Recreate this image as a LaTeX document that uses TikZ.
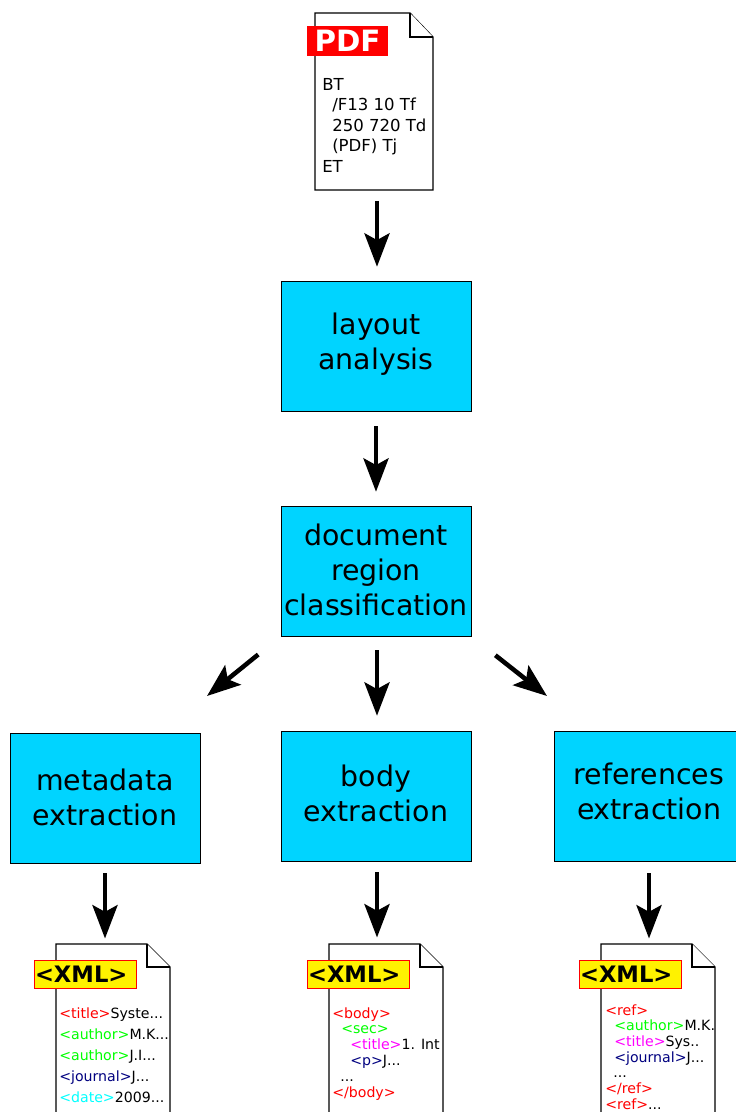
\documentclass[tikz,border=0pt]{standalone}
\usepackage{fontspec}
\setmainfont{DejaVu Sans}
\usetikzlibrary{arrows.meta}
\definecolor{boxblue}{HTML}{00D4FF}
\definecolor{tagred}{HTML}{FF0000}
\definecolor{taggreen}{HTML}{00FF00}
\definecolor{tagpink}{HTML}{FF00FF}
\definecolor{tagnavy}{HTML}{000080}
\definecolor{tagcyan}{HTML}{00FFFF}
\tikzset{
 procbox/.style={draw=black, fill=boxblue, minimum width=142.5pt, minimum height=97.5pt, inner sep=0, align=center, font=\fontsize{21.3}{26.3}\selectfont},
 flow/.style={line width=3.4pt, -{Stealth[length=25pt,width=18.75pt,inset=5pt]}},
 sheet/.style={draw=black, fill=white, line width=.9pt},
 pdftag/.style={fill=red, text=white, minimum width=60.75pt, minimum height=22.5pt, inner sep=0, font=\fontsize{22}{24}\selectfont\bfseries},
 xmltag/.style={draw=red, fill=yellow, line width=.75pt, minimum width=76.5pt, minimum height=21pt, inner sep=0, text width=75pt, align=left, font=\fontsize{17}{20}\selectfont\bfseries},
 listing/.style={anchor=north west, inner sep=0, align=left},
}
\begin{document}
\begin{tikzpicture}[x=.75pt,y=-.75pt]
\useasboundingbox (0,0) rectangle (735,1112);
\draw[sheet] (315,13) -- (410,13) -- (433,37) -- (433,190) -- (315,190) -- cycle;
\draw[sheet] (410,13) -- (410,37) -- (433,37);
\coordinate (pdfsheet) at (377,190);
\node[pdftag] (pdftag) at (347.5,41) {PDF};
\node[listing, font=\fontsize{12.4}{15.4}\selectfont] (pdfcode) at (322,78) {BT\\
\hspace*{7.5pt}/F13 10 Tf\\
\hspace*{7.5pt}250 720 Td\\
\hspace*{7.5pt}(PDF) Tj\\
ET};
\node[procbox, text depth=6.5pt] (layout) at (376,346) {layout\\analysis};
\node[procbox, text depth=1.5pt] (region) at (376,571) {document\\region\\classification};
\node[procbox, text depth=1pt] (meta) at (105,798) {metadata\\extraction};
\node[procbox, text depth=4pt] (body) at (376,796) {body\\extraction};
\node[procbox, text depth=6.5pt] (refs) at (649,796) {references\\extraction};
\foreach \l/\n in {56/xmlmeta,329/xmlbody,601/xmlrefs} {
 \draw[sheet] (\l,1113) -- (\l,944) -- (\l+91,944) -- (\l+114,967) -- (\l+114,1113);
 \draw[sheet] (\l+91,944) -- (\l+91,967) -- (\l+114,967);
 \node[xmltag] (\n) at (\l+29,974) {<XML>};
}
\node[listing, font=\fontsize{10.6}{15.75}\selectfont] (metacode) at (59,1007) {\textcolor{tagred}{<title>}Syste...\\
\textcolor{taggreen}{<author>}M.K...\\
\textcolor{taggreen}{<author>}J.I...\\
\textcolor{tagnavy}{<journal>}J...\\
\textcolor{tagcyan}{<date>}2009...};
\node[listing, font=\fontsize{10.6}{11.9}\selectfont] (bodycode) at (332,1007) {\textcolor{tagred}{<body>}\\
\hspace*{6.75pt}\textcolor{taggreen}{<sec>}\\
\hspace*{13.5pt}\textcolor{tagpink}{<title>}1. Int\\
\hspace*{13.5pt}\textcolor{tagnavy}{<p>}J...\\
\hspace*{6pt}...\\
\textcolor{tagred}{</body>}};
\node[listing, font=\fontsize{10.6}{11.8}\selectfont] (refscode) at (605,1004) {\textcolor{tagred}{<ref>}\\
\hspace*{6.75pt}\textcolor{taggreen}{<author>}M.K.\\
\hspace*{6.75pt}\textcolor{tagpink}{<title>}Sys..\\
\hspace*{6.75pt}\textcolor{tagnavy}{<journal>}J...\\
\hspace*{6pt}...\\
\textcolor{tagred}{</ref>}\\
\textcolor{tagred}{<ref>}...};
\coordinate (regionout) at (377,636);
\coordinate (bodyout) at (377,861);
\coordinate (metatip) at (207,696);
\coordinate (refstip) at (547,696);
\draw[flow, shorten <=8.25pt, shorten >=10.5pt] (pdfsheet) -- (pdfsheet |- layout.north);
\draw[flow, shorten <=11.25pt, shorten >=10.5pt] (layout.south) -- (region.north);
\draw[flow, shorten <=10.5pt, shorten >=11.25pt] (regionout) -- (regionout |- body.north);
\draw[flow, shorten <=21.75pt] (region.south west) -- (metatip);
\draw[flow, shorten <=23pt] (region.south east) -- (refstip);
\draw[flow, shorten <=7.5pt, shorten >=15.75pt] (meta.south) -- (meta.south |- xmlmeta.north);
\draw[flow, shorten <=8.25pt, shorten >=16.5pt] (bodyout) -- (bodyout |- xmlbody.north);
\draw[flow, shorten <=9pt, shorten >=15.75pt] (refs.south) -- (refs.south |- xmlrefs.north);
\end{tikzpicture}
\end{document}
